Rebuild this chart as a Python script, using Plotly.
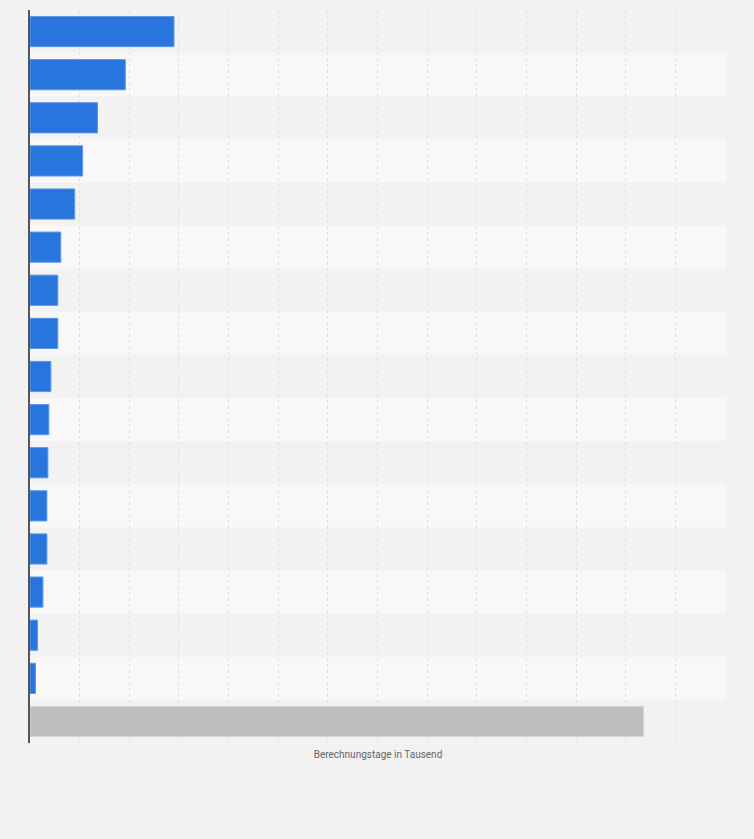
import plotly.graph_objects as go

# Categories (labels are not shown in the reference chart)
categories = [f"Kategorie {i}" for i in range(1, 17)] + ["Gesamt"]

# Berechnungstage in Tausend
values = [2.90, 1.92, 1.36, 1.06, 0.90, 0.62, 0.56, 0.56,
          0.42, 0.38, 0.36, 0.34, 0.34, 0.26, 0.15, 0.11, 12.36]

bar_colors = ["#2876dd"] * 16 + ["#bebebe"]
line_colors = ["#5a97ea"] * 16 + ["#d6d6d6"]

fig = go.Figure()

fig.add_trace(go.Bar(
    x=values,
    y=categories,
    orientation="h",
    width=0.7,
    marker=dict(color=bar_colors, line=dict(color=line_colors, width=1)),
    hoverinfo="x+y",
))

# alternating row bands inside the plot area
for i in range(len(categories)):
    if i % 2 == 1:
        fig.add_shape(
            type="rect", xref="x domain", yref="y",
            x0=0, x1=1, y0=i - 0.5, y1=i + 0.5,
            fillcolor="#f8f8f8", line=dict(width=0), layer="below",
        )

fig.update_layout(
    width=754,
    height=839,
    margin=dict(l=30, r=28, t=10, b=96),
    paper_bgcolor="#f2f2f2",
    plot_bgcolor="#f2f2f2",
    showlegend=False,
    bargap=0.3,
    font=dict(family="Roboto, Arial, sans-serif", color="#666666"),
)

fig.update_xaxes(
    range=[0, 14.02],
    dtick=1,
    showticklabels=False,
    showgrid=True,
    gridcolor="#e0e0e0",
    griddash="dot",
    gridwidth=1,
    zeroline=False,
    title=dict(text="Berechnungstage in Tausend", font=dict(size=10, color="#666666"), standoff=7),
)

fig.update_yaxes(
    range=[len(categories) - 0.5, -0.5],
    showticklabels=False,
    showgrid=False,
    showline=True,
    linecolor="#555555",
    linewidth=1.5,
    zeroline=False,
)

# remove the default page margin so the figure fills the window
fig.write_html(
    "out.html",
    config={"displayModeBar": False},
    post_script="document.body.style.margin='0';",
)
